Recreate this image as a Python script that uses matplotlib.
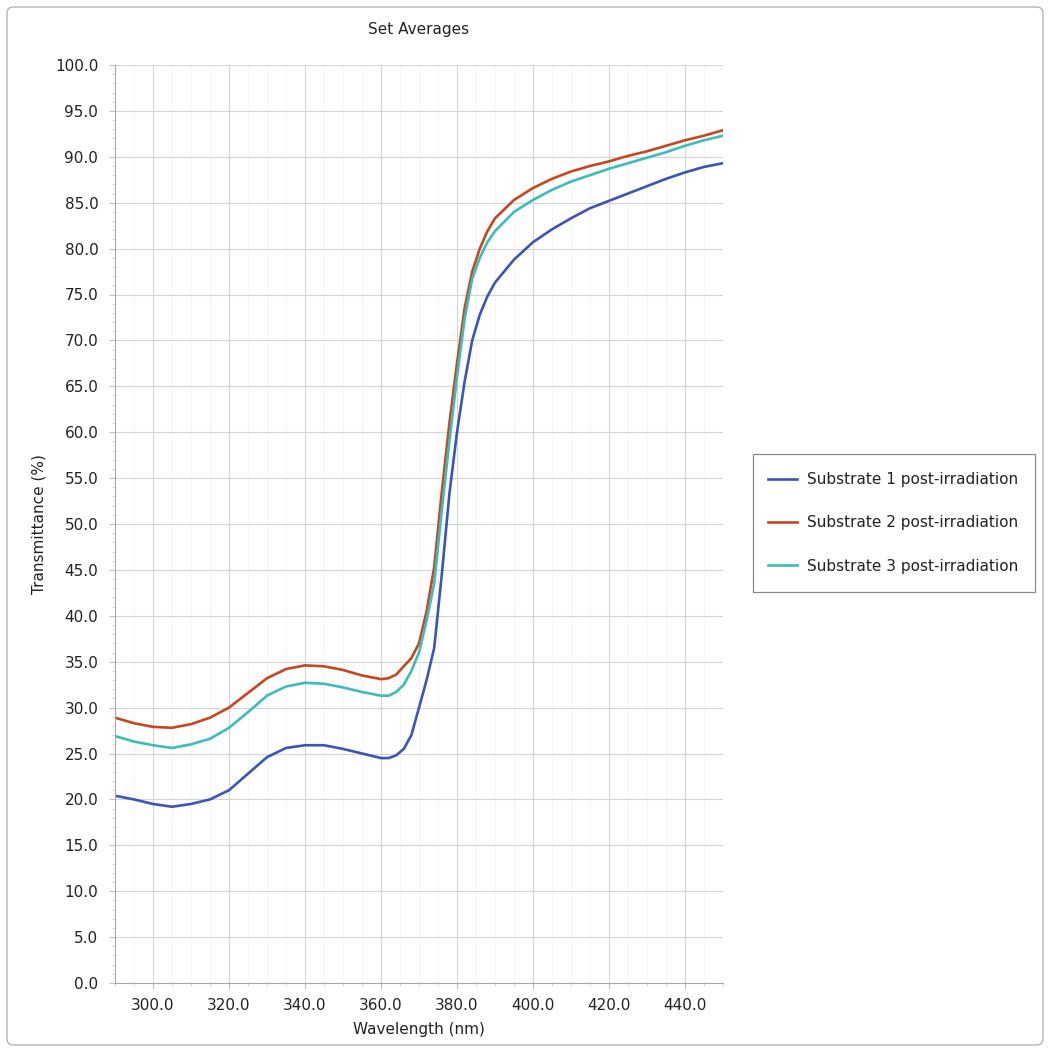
import matplotlib
matplotlib.use("Agg")
import matplotlib.pyplot as plt
from matplotlib.patches import FancyBboxPatch, Rectangle
from matplotlib.ticker import MultipleLocator, FormatStrFormatter

# data (nm, % transmittance)
wavelength = [290, 295, 300, 305, 310, 315, 320, 325, 330, 335, 340, 345, 350, 355,
              360, 362, 364, 366, 368, 370, 372, 374, 376, 378, 380, 382, 384, 386,
              388, 390, 395, 400, 405, 410, 415, 420, 425, 430, 435, 440, 445, 450]

sub1 = [20.4, 20.0, 19.5, 19.2, 19.5, 20.0, 21.0, 22.8, 24.6, 25.6, 25.9, 25.9, 25.5, 25.0,
        24.5, 24.5, 24.8, 25.5, 27.0, 30.0, 33.0, 36.5, 44.5, 53.3, 60.0, 65.5, 70.0, 72.8,
        74.8, 76.3, 78.8, 80.7, 82.1, 83.3, 84.4, 85.2, 86.0, 86.8, 87.6, 88.3, 88.9, 89.3]

sub2 = [28.9, 28.3, 27.9, 27.8, 28.2, 28.9, 30.0, 31.6, 33.2, 34.2, 34.6, 34.5, 34.1, 33.5,
        33.1, 33.2, 33.6, 34.5, 35.4, 37.0, 40.5, 45.3, 53.5, 61.0, 67.5, 73.5, 77.5, 80.0,
        81.9, 83.3, 85.3, 86.6, 87.6, 88.4, 89.0, 89.5, 90.1, 90.6, 91.2, 91.8, 92.3, 92.9]

sub3 = [26.9, 26.3, 25.9, 25.6, 26.0, 26.6, 27.8, 29.5, 31.3, 32.3, 32.7, 32.6, 32.2, 31.7,
        31.3, 31.3, 31.7, 32.5, 34.0, 36.0, 39.5, 43.5, 51.5, 59.0, 66.0, 72.3, 76.7, 79.0,
        80.7, 81.9, 84.0, 85.3, 86.4, 87.3, 88.0, 88.7, 89.3, 89.9, 90.5, 91.2, 91.8, 92.3]

labels = ["Substrate 1 post-irradiation",
          "Substrate 2 post-irradiation",
          "Substrate 3 post-irradiation"]
colors = ["#3a55b8", "#c8461e", "#3cbcbc"]

W, H = 1052, 1054
FS = 11
fig = plt.figure(figsize=(W / 100, H / 100), dpi=100)
fig.patch.set_facecolor("white")

# outer rounded frame
fig.patches.append(FancyBboxPatch((7 / W, 9 / H), 1036 / W, 1038 / H,
                                  boxstyle="round,pad=0,rounding_size=0.006",
                                  transform=fig.transFigure, fill=False,
                                  edgecolor="#b4b4b4", lw=1.0))

ax = fig.add_axes([115 / W, 1 - 983 / H, 608 / W, 918 / H])

for y, c, lab in zip([sub1, sub2, sub3], colors, labels):
    ax.plot(wavelength, y, color=c, lw=1.9, label=lab)

ax.set_xlim(290, 450)
ax.set_ylim(0, 100)
ax.xaxis.set_major_locator(MultipleLocator(20))
ax.xaxis.set_minor_locator(MultipleLocator(5))
ax.yaxis.set_major_locator(MultipleLocator(5))
ax.yaxis.set_minor_locator(MultipleLocator(1))
ax.xaxis.set_major_formatter(FormatStrFormatter("%.1f"))
ax.yaxis.set_major_formatter(FormatStrFormatter("%.1f"))
ax.grid(True, which="major", color="#d4d4d4", lw=0.8)
ax.grid(True, which="minor", axis="x", color="#f4f4f4", lw=0.6)
ax.set_axisbelow(True)

for s in ["top", "right"]:
    ax.spines[s].set_visible(False)
for s in ["left", "bottom"]:
    ax.spines[s].set_color("#a8a8a8")
ax.tick_params(which="major", length=4, color="#c0c0c0", labelsize=FS,
               labelcolor="#222222")
ax.tick_params(axis="x", which="major", pad=7)
ax.tick_params(axis="y", which="major", pad=8)
ax.tick_params(which="minor", length=2, color="#d0d0d0")

ax.set_title("Set Averages", fontsize=FS, color="#222222", pad=22)
ax.set_xlabel("Wavelength (nm)", fontsize=FS, color="#222222", labelpad=6)
ax.set_ylabel("Transmittance (%)", fontsize=FS, color="#222222", labelpad=6)

# legend box drawn by hand, entries placed inside it
fig.patches.append(Rectangle((753 / W, 1 - 592 / H), 282 / W, 138 / H,
                             transform=fig.transFigure, fill=True,
                             facecolor="white", edgecolor="#8c8c8c", lw=0.9))
leg = fig.legend(loc="center left", bbox_to_anchor=(760 / W, 1 - 523 / H),
                 fontsize=FS, frameon=False, handlelength=1.9, borderpad=0,
                 labelspacing=1.85, handletextpad=0.7)
for t in leg.get_texts():
    t.set_color("#222222")

fig.savefig("out.png", dpi=100)
